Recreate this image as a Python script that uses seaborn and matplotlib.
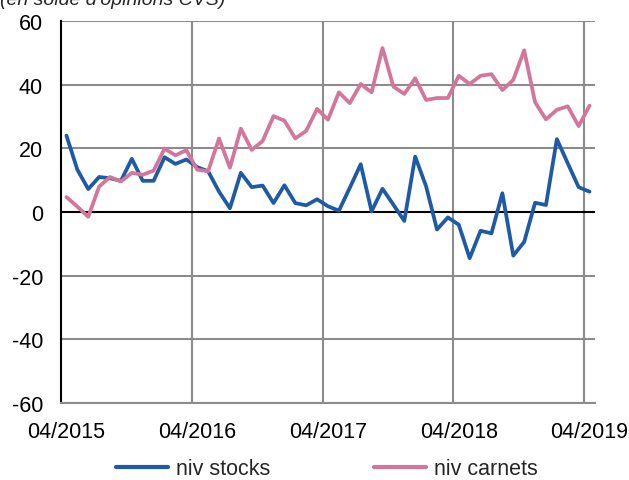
import matplotlib
matplotlib.use("Agg")
import matplotlib.pyplot as plt
import seaborn as sns
import pandas as pd
import numpy as np

# ---- data ----
months = pd.date_range("2015-04-01", periods=49, freq="MS")
month_labels = [d.strftime("%m/%Y") for d in months]
niv_stocks = [24, 13.3, 7.2, 11, 10.6, 9.8, 16.7, 9.8, 9.8, 17.2, 15.1, 16.5,
              14.1, 12.8, 6.4, 1.2, 12.3, 7.8, 8.3, 2.8, 8.4, 2.8, 2.1, 4.0,
              1.8, 0.4, 7.6, 15.0, 0.2, 7.3, 2.3, -2.8, 17.4, 8.1, -5.5, -1.7,
              -4.0, -14.5, -5.9, -6.7, 5.9, -13.7, -9.4, 2.9, 2.2, 22.9, 15.3, 7.8,
              6.4]
niv_carnets = [4.7, 1.7, -1.5, 8.0, 11.0, 9.6, 12.3, 11.7, 13.0, 19.9, 17.8, 19.4,
               13.3, 12.8, 23.1, 13.9, 26.2, 19.5, 22.3, 30.1, 28.7, 23.1, 25.5, 32.4,
               29.0, 37.6, 34.2, 40.2, 37.6, 51.5, 39.4, 37.1, 42.0, 35.2, 35.8, 35.8,
               42.8, 40.2, 42.8, 43.3, 38.3, 41.5, 50.8, 34.5, 29.1, 32.1, 33.2, 27.0,
               33.4]
series_names = ["niv stocks", "niv carnets"]
series_colors = ["#1F5AA7", "#D4759B"]
yticks = [-60, -40, -20, 0, 20, 40, 60]
title_text = "(en solde d'opinions CVS)"

idx = np.arange(len(months))
df = pd.DataFrame({
    "idx": np.concatenate([idx, idx]),
    "value": niv_stocks + niv_carnets,
    "serie": [series_names[0]] * len(idx) + [series_names[1]] * len(idx),
})

sns.set_style("white")
plt.rcParams["font.family"] = ["Liberation Sans", "DejaVu Sans"]

fig = plt.figure(figsize=(6.29, 4.81), dpi=100)
ax = fig.add_axes([61 / 629, 77 / 481, 534 / 629, 382 / 481])

grid_col = "#8C8C8C"
# horizontal grid
for y in yticks:
    if y != 0:
        ax.axhline(y, color=grid_col, lw=1.5, zorder=1)
# vertical grid at category boundaries
for b in [11.5, 23.5, 35.5, 47.5]:
    ax.axvline(b, color=grid_col, lw=1.5, zorder=1)
ax.axhline(0, color="black", lw=1.5, zorder=2)

sns.lineplot(data=df, x="idx", y="value", hue="serie", palette=series_colors,
             hue_order=series_names, lw=2.7, ax=ax, legend=False, zorder=3)

ax.set_xlim(-0.5, 48.5)
ax.set_ylim(-60, 60)
ax.set_yticks(yticks)
ax.set_yticklabels([str(v) for v in yticks])
tick_pos = [0, 12, 24, 36, 48]
ax.set_xticks(tick_pos)
ax.set_xticklabels([month_labels[i] for i in tick_pos])
ax.tick_params(axis="both", length=0, labelsize=15.5, colors="black")
ax.tick_params(axis="y", pad=13)
ax.tick_params(axis="x", pad=13)
ax.set_xlabel("")
ax.set_ylabel("")

for s in ["top", "right"]:
    ax.spines[s].set_visible(False)
ax.spines["left"].set_color("black")
ax.spines["left"].set_linewidth(1.5)
ax.spines["bottom"].set_color(grid_col)
ax.spines["bottom"].set_linewidth(1.5)

from matplotlib.lines import Line2D
handles = [Line2D([], [], color=c, lw=3) for c in series_colors]
fig.legend(handles, series_names, loc="center", bbox_to_anchor=(0.52, 1 - 470 / 481),
           ncol=2, frameon=False, fontsize=15.5, handlelength=2.4, handletextpad=0.4,
           columnspacing=4.8)

fig.text(0.0, 1 - 5 / 481, title_text, fontsize=14, style="italic", ha="left",
         va="baseline")

fig.savefig("out.png", dpi=100)
